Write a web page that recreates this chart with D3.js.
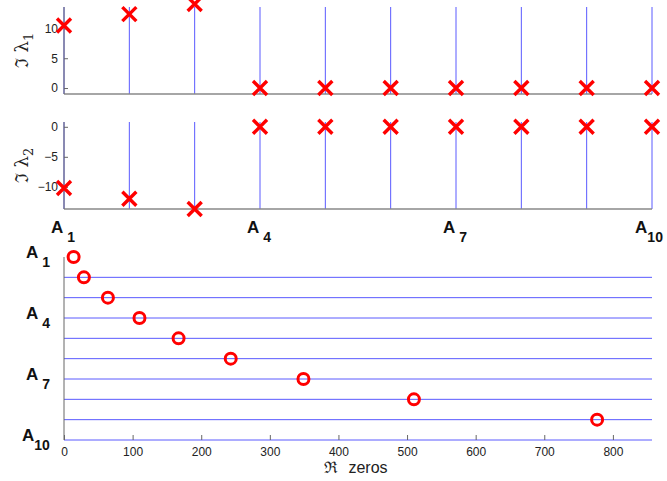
<!DOCTYPE html>
<html>
<head>
<meta charset="utf-8">
<script src="https://cdn.jsdelivr.net/npm/d3@7"></script>
<style>
  body { margin: 0; background: #fff; }
  text { font-family: "Liberation Sans", Arial, sans-serif; }
  .tick text { font-size: 12px; fill: #222; }
  .lab { font-weight: bold; fill: #111; }
</style>
</head>
<body>
<div id="chart"></div>
<script>
// categories and values
var categories = ["A1", "A2", "A3", "A4", "A5", "A6", "A7", "A8", "A9", "A10"];
var lambda1 = [10.5, 12.4, 14.1, 0, 0, 0, 0, 0, 0, 0];
var lambda2 = [-10.2, -12.0, -13.7, 0, 0, 0, 0, 0, 0, 0];
var zeroCats = ["A1", "A2", "A3", "A4", "A5", "A6", "A7", "A8", "A9"];
var zeroVals = [14, 29, 64, 110, 167, 243, 349, 510, 777];
var ticks1 = [0, 5, 10];
var ticks2 = [-10, -5, 0];
var ticksX = [0, 100, 200, 300, 400, 500, 600, 700, 800];
var labelCats = ["A1", "A4", "A7", "A10"];

var W = 667, H = 481;
var left = 64, right = 652;
var stemColor = "#5a5aff", red = "#ff0000", axisColor = "#666";

var svg = d3.select("#chart").append("svg")
    .attr("width", W)
    .attr("height", H);

var x = d3.scalePoint().domain(categories).range([left, right]);

function catLabel(g, cat, px, py, anchor) {
    var t = g.append("text")
        .attr("class", "lab")
        .attr("x", px)
        .attr("y", py)
        .attr("text-anchor", anchor)
        .style("font-size", "17px");
    t.append("tspan").text("A");
    t.append("tspan").style("font-size", "14px").attr("dx", cat === "A10" ? 0 : 4).attr("dy", 9).text(cat.slice(1));
}

function stemPanel(top, bottom, domain, values, ticks, sub) {
    var y = d3.scaleLinear().domain(domain).range([bottom, top]);
    var g = svg.append("g");

    g.selectAll(".stem")
        .data(categories)
        .enter().append("line")
        .attr("x1", function (d) { return x(d); })
        .attr("x2", function (d) { return x(d); })
        .attr("y1", top)
        .attr("y2", bottom)
        .attr("stroke", stemColor)
        .attr("stroke-width", 1);

    g.append("line")
        .attr("x1", left).attr("x2", right)
        .attr("y1", bottom).attr("y2", bottom)
        .attr("stroke", "#888").attr("stroke-width", 1.5);

    var ax = g.append("g")
        .attr("transform", "translate(" + left + ",0)")
        .call(d3.axisLeft(y).tickValues(ticks).tickSize(-4).tickPadding(6));
    ax.select(".domain").attr("stroke", axisColor).attr("d", "M0," + top + "V" + bottom);
    ax.selectAll(".tick line").attr("stroke", axisColor);

    var s = 7;
    g.selectAll(".mark")
        .data(values)
        .enter().append("path")
        .attr("d", function (d, i) {
            var cx = x(categories[i]), cy = y(d);
            return "M" + (cx - s) + "," + (cy - s) + "L" + (cx + s) + "," + (cy + s) +
                "M" + (cx - s) + "," + (cy + s) + "L" + (cx + s) + "," + (cy - s);
        })
        .attr("stroke", red)
        .attr("stroke-width", 3.4)
        .attr("fill", "none");

    var ty = (top + bottom) / 2;
    var t = svg.append("text")
        .attr("transform", "translate(28," + ty + ") rotate(-90)")
        .attr("text-anchor", "middle")
        .style("font-family", "'DejaVu Serif', serif")
        .style("font-size", "18px")
        .attr("fill", "#222");
    t.append("tspan").text("\u2111 \u03bb");
    t.append("tspan").style("font-size", "13px").attr("dy", 5).text(sub);
}

stemPanel(7, 94, [-1, 13.6], lambda1, ticks1, "1");
stemPanel(122, 209, [-13.7, 0.8], lambda2, ticks2, "2");

// category labels under second panel
labelCats.forEach(function (c) {
    catLabel(svg, c, x(c) - (c === "A10" ? 3 : 1), 233, "middle");
});

// bottom panel
var bx = d3.scaleLinear().domain([0, 857]).range([left, right]);
var by = d3.scalePoint().domain(categories).range([257, 440]);
var gb = svg.append("g");

gb.selectAll(".hline")
    .data(categories.slice(1))
    .enter().append("line")
    .attr("x1", left).attr("x2", right)
    .attr("y1", function (d) { return by(d); })
    .attr("y2", function (d) { return by(d); })
    .attr("stroke", stemColor)
    .attr("stroke-width", 1);

var xa = gb.append("g")
    .attr("transform", "translate(0,440)")
    .call(d3.axisBottom(bx).tickValues(ticksX).tickSize(-5).tickPadding(7));
xa.select(".domain").remove();
xa.selectAll(".tick line").attr("stroke", axisColor);

gb.append("line")
    .attr("x1", left).attr("x2", left)
    .attr("y1", 257).attr("y2", 440)
    .attr("stroke", axisColor).attr("stroke-width", 1);

gb.selectAll(".zero")
    .data(zeroVals)
    .enter().append("circle")
    .attr("cx", function (d) { return bx(d); })
    .attr("cy", function (d, i) { return by(zeroCats[i]); })
    .attr("r", 5.5)
    .attr("fill", "none")
    .attr("stroke", red)
    .attr("stroke-width", 3);

labelCats.forEach(function (c) {
    catLabel(svg, c, c === "A10" ? 22 : 26, by(c) + 1, "start");
});

var xl = svg.append("text")
    .attr("x", 356)
    .attr("y", 473)
    .attr("text-anchor", "middle")
    .style("font-size", "16px")
    .attr("fill", "#222");
xl.append("tspan").style("font-family", "'DejaVu Serif', serif").text("\u211c");
xl.append("tspan").attr("dx", 10).text("zeros");
</script>
</body>
</html>
